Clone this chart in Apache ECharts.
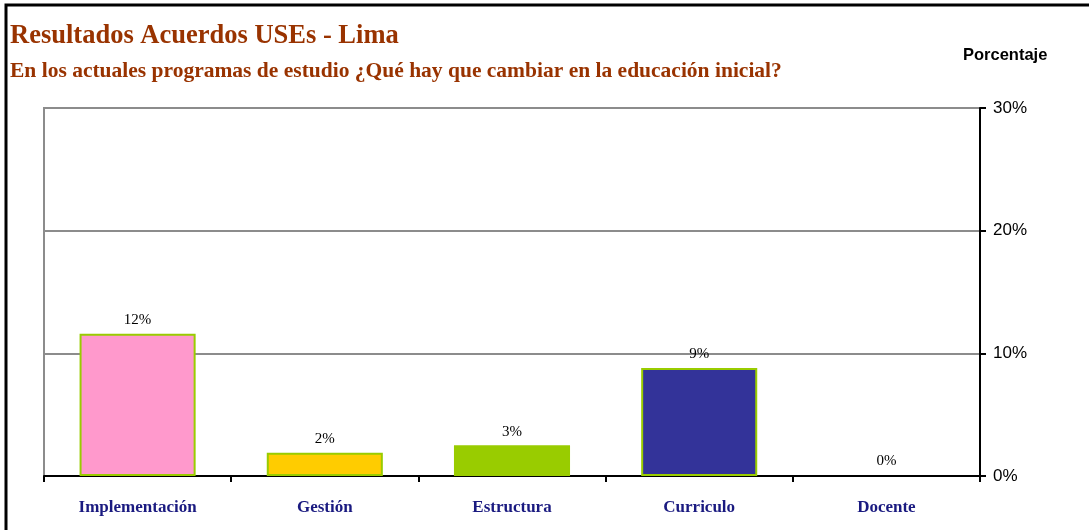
<!DOCTYPE html>
<html>
<head>
<meta charset="utf-8">
<script src="https://cdn.jsdelivr.net/npm/echarts@6/dist/echarts.min.js"></script>
<style>
  html, body { margin: 0; padding: 0; background: #fff; }
  #chart { width: 1089px; height: 530px; }
</style>
</head>
<body>
<div id="chart"></div>
<script>
const categories = ['Implementación', 'Gestión', 'Estructura', 'Curriculo', 'Docente'];
const values = [11.6, 1.9, 2.5, 8.8, 0];
const barColors = ['#ff99cc', '#ffcc00', '#99cc00', '#333399', '#ffffff'];
const yTicks = [0, 10, 20, 30];

const chart = echarts.init(document.getElementById('chart'));

const option = {
  animation: false,
  backgroundColor: '#fff',
  title: [
    {
      text: 'Resultados Acuerdos USEs - Lima',
      left: 10, top: 23, padding: 0,
      textStyle: { fontFamily: 'Liberation Serif', fontWeight: 'bold', fontSize: 26.5, color: '#993300' }
    },
    {
      text: 'En los actuales programas de estudio ¿Qué hay que cambiar en la educación inicial?',
      left: 10, top: 60, padding: 0,
      textStyle: { fontFamily: 'Liberation Serif', fontWeight: 'bold', fontSize: 21.5, color: '#993300' }
    },
    {
      text: 'Porcentaje',
      left: 963, top: 47, padding: 0,
      textStyle: { fontFamily: 'Liberation Sans', fontWeight: 'bold', fontSize: 16.5, color: '#000' }
    }
  ],
  graphic: [
    {
      type: 'rect', silent: true,
      shape: { x: 6, y: 5, width: 1200, height: 700 },
      style: { fill: 'none', stroke: '#000', lineWidth: 3 }
    }
  ],
  grid: {
    left: 44, right: 109, top: 108, bottom: 54,
    show: true, borderColor: '#8c8c8c', borderWidth: 2, backgroundColor: '#fff'
  },
  xAxis: {
    type: 'category',
    data: categories,
    axisLine: { lineStyle: { color: '#000', width: 2 } },
    axisTick: { show: true, length: 6, lineStyle: { color: '#000', width: 2 } },
    axisLabel: {
      margin: 23,
      fontFamily: 'Liberation Serif', fontWeight: 'bold', fontSize: 17, color: '#1a1a80'
    }
  },
  yAxis: {
    type: 'value',
    position: 'right',
    min: 0, max: 30, interval: 10,
    axisLine: { show: true, lineStyle: { color: '#000', width: 2 } },
    axisTick: { show: true, length: 6, lineStyle: { color: '#000', width: 2 } },
    splitLine: { show: true, lineStyle: { color: '#8c8c8c', width: 2 } },
    axisLabel: {
      margin: 13,
      fontFamily: 'Liberation Sans', fontSize: 17, color: '#000',
      formatter: v => (yTicks.includes(v) ? v + '%' : '')
    }
  },
  series: [
    {
      type: 'bar',
      barWidth: '62%',
      data: values.map((v, i) => ({
        value: v,
        itemStyle: {
          color: barColors[i],
          borderColor: v > 0 ? '#99cc00' : 'transparent',
          borderWidth: 2
        }
      })),
      label: {
        show: true,
        position: 'top',
        distance: 6,
        fontFamily: 'Liberation Serif', fontSize: 15, color: '#000',
        formatter: p => Math.round(p.value) + '%'
      }
    }
  ]
};

chart.setOption(option);
</script>
</body>
</html>
